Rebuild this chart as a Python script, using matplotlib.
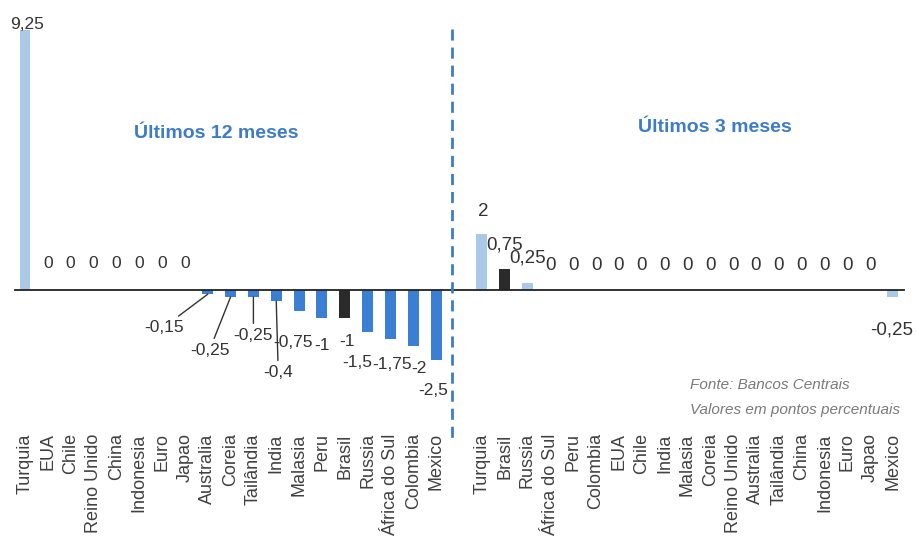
import matplotlib
matplotlib.use('Agg')
import matplotlib.pyplot as plt

plt.rcParams['font.family'] = ['Liberation Sans', 'DejaVu Sans']

# juros: variacao nos ultimos 12 meses
paises_12m = ['Turquia', 'EUA', 'Chile', 'Reino Unido', 'China', 'Indonesia', 'Euro',
              'Japao', 'Australia', 'Coreia', 'Tailândia', 'India', 'Malasia', 'Peru',
              'Brasil', 'Russia', 'África do Sul', 'Colombia', 'Mexico']
valores_12m = [9.25, 0, 0, 0, 0, 0, 0, 0, -0.15, -0.25, -0.25, -0.4, -0.75, -1, -1,
               -1.5, -1.75, -2, -2.5]

# variacao nos ultimos 3 meses
paises_3m = ['Turquia', 'Brasil', 'Russia', 'África do Sul', 'Peru', 'Colombia', 'EUA',
             'Chile', 'India', 'Malasia', 'Coreia', 'Reino Unido', 'Australia',
             'Tailândia', 'China', 'Indonesia', 'Euro', 'Japao', 'Mexico']
valores_3m = [2, 0.75, 0.25, 0, 0, 0, 0, 0, 0, 0, 0, 0, 0, 0, 0, 0, 0, 0, -0.25]

claro = '#a9c9e6'
azul = '#3b7fd4'
preto = '#2b2b2b'

cores_12m = [claro] + [azul] * 13 + [preto] + [azul] * 4
cores_3m = [claro, preto] + [claro] * 17

# deslocamento dos rotulos em pixels (dx, dy) em relacao ao topo da barra
off_12m = [(2, 6), (0, 27), (0, 27), (0, 27), (0, 27), (0, 27), (0, 27), (0, 27),
           (-44, -33), (-21, -53), (0, -38), (2, -71), (-6, -31), (0, -27),
           (2, -23), (-10, -30), (2, -25), (6, -22), (-3, -30)]
off_3m = [(1, 22), (0, 24), (0, 25)] + [(0, 25)] * 15 + [(-1, -33)]
lider_12m = [8, 9, 10, 11]

fig = plt.figure(figsize=(9.17, 5.48), dpi=100)
ax = fig.add_axes([0, 1 - 425 / 548, 1, 425 / 548])

passo = 22.84
x0 = 25
ax.set_xlim(-x0 / passo, (917 - x0) / passo)
ax.set_ylim(-(425 - 290) / 28.1, 290 / 28.1)

pos_12m = list(range(len(paises_12m)))
pos_3m = [len(paises_12m) + 1 + i for i in range(len(paises_3m))]

ax.bar(pos_12m, valores_12m, width=0.48, color=cores_12m, zorder=2)
ax.bar(pos_3m, valores_3m, width=0.48, color=cores_3m, zorder=2)

ax.plot([-0.44, pos_3m[-1] + 0.5], [0, 0], color='#222222', lw=1.3, zorder=3)


def fmt(v):
    return f'{v:g}'.replace('.', ',')


def rotular(pos, vals, offs, lider, tam):
    for i, (x, v) in enumerate(zip(pos, vals)):
        dx, dy = offs[i]
        props = None
        if i in lider:
            props = dict(arrowstyle='-', color='#333333', lw=1.0, shrinkA=1, shrinkB=0)
        ax.annotate(fmt(v), xy=(x, v), xytext=(dx, dy), textcoords='offset pixels',
                    ha='center', va='center', fontsize=tam, color='#333333',
                    arrowprops=props, zorder=4)


rotular(pos_12m, valores_12m, off_12m, lider_12m, 12.5)
rotular(pos_3m, valores_3m, off_3m, [], 13.5)

# separador entre os dois periodos
xs = (452 - x0) / passo
ax.plot([xs, xs], [9.3, -5.4], color='#3d7cc9', lw=2, ls=(0, (4, 2.5)),
        clip_on=False, zorder=3)

ax.set_xticks(pos_12m + pos_3m)
ax.set_xticklabels(paises_12m + paises_3m, rotation=90, fontsize=13, color='#404040')
ax.tick_params(axis='x', length=0, pad=6)
ax.set_yticks([])
for s in ax.spines.values():
    s.set_visible(False)

fig.text(216 / 917, 1 - 133 / 548, 'Últimos 12 meses', ha='center', va='center',
         fontsize=14, fontweight='bold', color='#3d7cc9')
fig.text(715 / 917, 1 - 127 / 548, 'Últimos 3 meses', ha='center', va='center',
         fontsize=14, fontweight='bold', color='#3d7cc9')
fig.text(690 / 917, 1 - 385 / 548, 'Fonte: Bancos Centrais', ha='left', va='center',
         fontsize=11, style='italic', color='#7a7a7a')
fig.text(690 / 917, 1 - 410 / 548, 'Valores em pontos percentuais', ha='left',
         va='center', fontsize=11, style='italic', color='#7a7a7a')

fig.savefig('out.png', dpi=100)
